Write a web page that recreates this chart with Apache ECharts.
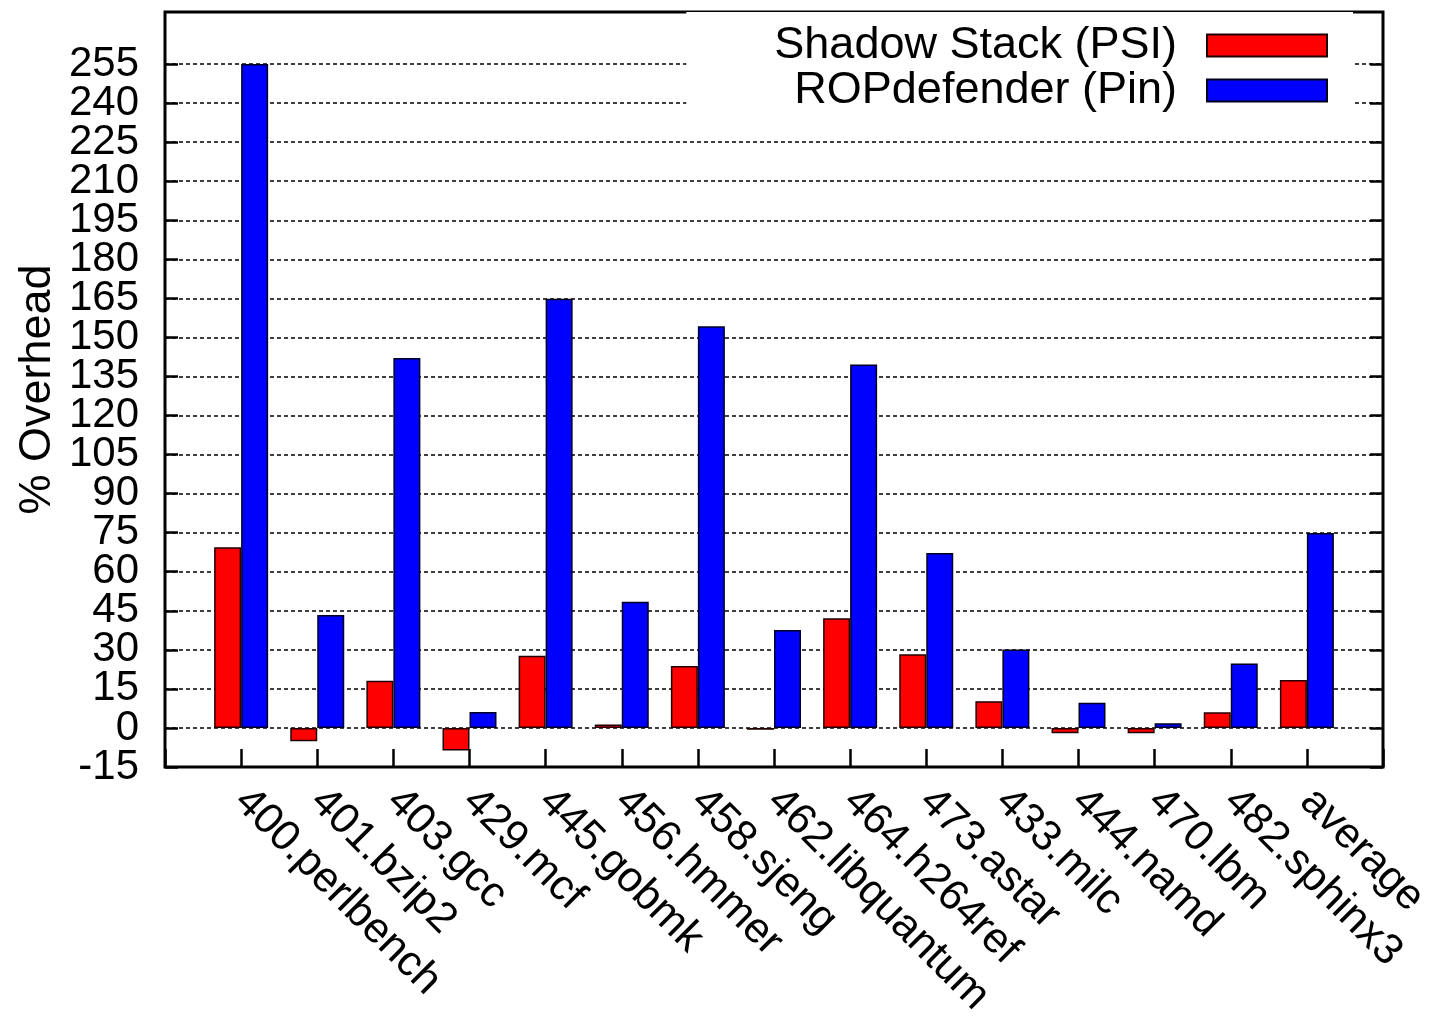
<!DOCTYPE html>
<html>
<head>
<meta charset="utf-8">
<script src="https://cdn.jsdelivr.net/npm/echarts@6/dist/echarts.min.js"></script>
<style>
  html, body { margin: 0; padding: 0; background: #fff; }
  #chart { width: 1432px; height: 1023px; }
</style>
</head>
<body>
<div id="chart"></div>
<script>
const categories = ['400.perlbench', '401.bzip2', '403.gcc', '429.mcf', '445.gobmk', '456.hmmer', '458.sjeng',
  '462.libquantum', '464.h264ref', '473.astar', '433.milc', '444.namd', '470.lbm', '482.sphinx3', 'average']
const shadowStack = [69.4, -5.1, 18.1, -8.7, 27.7, 1.3, 23.8, -0.7, 42.1, 28.3, 10.3, -2.0, -2.0, 6.0, 18.4]
const ropDefender = [255, 43.4, 142.1, 6.1, 164.9, 48.5, 154.3, 37.6, 139.6, 67.2, 30.1, 9.7, 1.8, 24.8, 74.9]
const yTicks = [-15, 0, 15, 30, 45, 60, 75, 90, 105, 120, 135, 150, 165, 180, 195, 210, 225, 240, 255]

// one empty slot on each side, like the original x range
const xData = [''].concat(categories, [''])
const pad = arr => ['-'].concat(arr, ['-'])
// the labels are packed tight, so they are split over two stacked axes
// to keep echarts from dropping the ones it thinks overlap
const ticksA = yTicks.filter((v, i) => i % 2 === 0)
const ticksB = yTicks.filter((v, i) => i % 2 === 1)

const font = 'Liberation Sans, Arial, Helvetica, sans-serif'
let myChart = echarts.init(document.getElementById('chart'))

let yAxisBase = {
  type: 'value',
  min: -15,
  max: 275,
  interval: 15,
  axisLine: { show: false },
  axisTick: { show: true, inside: true, length: 13, customValues: yTicks, lineStyle: { color: '#000', width: 2.5 } },
  splitLine: { show: false }
}
let labelBase = { margin: 26, fontSize: 42, color: '#000', fontFamily: font, showMinLabel: true, showMaxLabel: true }

let option = {
  animation: false,
  textStyle: { fontFamily: font },
  grid: {
    left: 165, right: 49, top: 12, bottom: 256,
    containLabel: false, outerBoundsMode: 'none',
    show: true, borderColor: '#000', borderWidth: 3, backgroundColor: 'transparent'
  },
  legend: {
    orient: 'vertical',
    align: 'right',
    right: 79,
    top: 12,
    itemGap: 0,
    itemWidth: 120,
    itemHeight: 22,
    icon: 'rect',
    backgroundColor: '#fff',
    padding: [11, 25, 8, 88],
    textStyle: { fontSize: 45, color: '#000', lineHeight: 45, padding: [0, 25, 0, 0], fontFamily: font },
    data: ['Shadow Stack (PSI)', 'ROPdefender (Pin)']
  },
  xAxis: {
    type: 'category',
    data: xData,
    boundaryGap: false,
    axisLine: { show: false, onZero: false },
    axisTick: { show: true, inside: true, length: 18, lineStyle: { color: '#000', width: 2.5 } },
    axisLabel: { rotate: -45, interval: 0, margin: 28, fontSize: 43, color: '#000', fontFamily: font },
    splitLine: { show: false }
  },
  yAxis: [
    Object.assign({}, yAxisBase, {
      position: 'left',
      name: '% Overhead',
      nameLocation: 'middle',
      nameRotate: 90,
      nameGap: 105,
      nameMoveOverlap: false,
      nameTextStyle: { fontSize: 45, color: '#000', fontFamily: font },
      axisLabel: Object.assign({ customValues: ticksA }, labelBase),
      splitLine: { show: true, lineStyle: { color: '#000', width: 1.5, type: [4, 3] } }
    }),
    Object.assign({}, yAxisBase, {
      position: 'left',
      axisTick: { show: false },
      axisLabel: Object.assign({ customValues: ticksB }, labelBase)
    }),
    Object.assign({}, yAxisBase, {
      position: 'right',
      axisLabel: { show: false }
    })
  ],
  series: [
    {
      name: 'Shadow Stack (PSI)',
      type: 'bar',
      data: pad(shadowStack),
      barWidth: 27,
      barGap: '0%',
      itemStyle: { color: '#ff0000', borderColor: '#200000', borderWidth: 1.5 }
    },
    {
      name: 'ROPdefender (Pin)',
      type: 'bar',
      data: pad(ropDefender),
      barWidth: 27,
      barGap: '0%',
      itemStyle: { color: '#0000ff', borderColor: '#000020', borderWidth: 1.5 }
    }
  ]
}

myChart.setOption(option)
</script>
</body>
</html>
